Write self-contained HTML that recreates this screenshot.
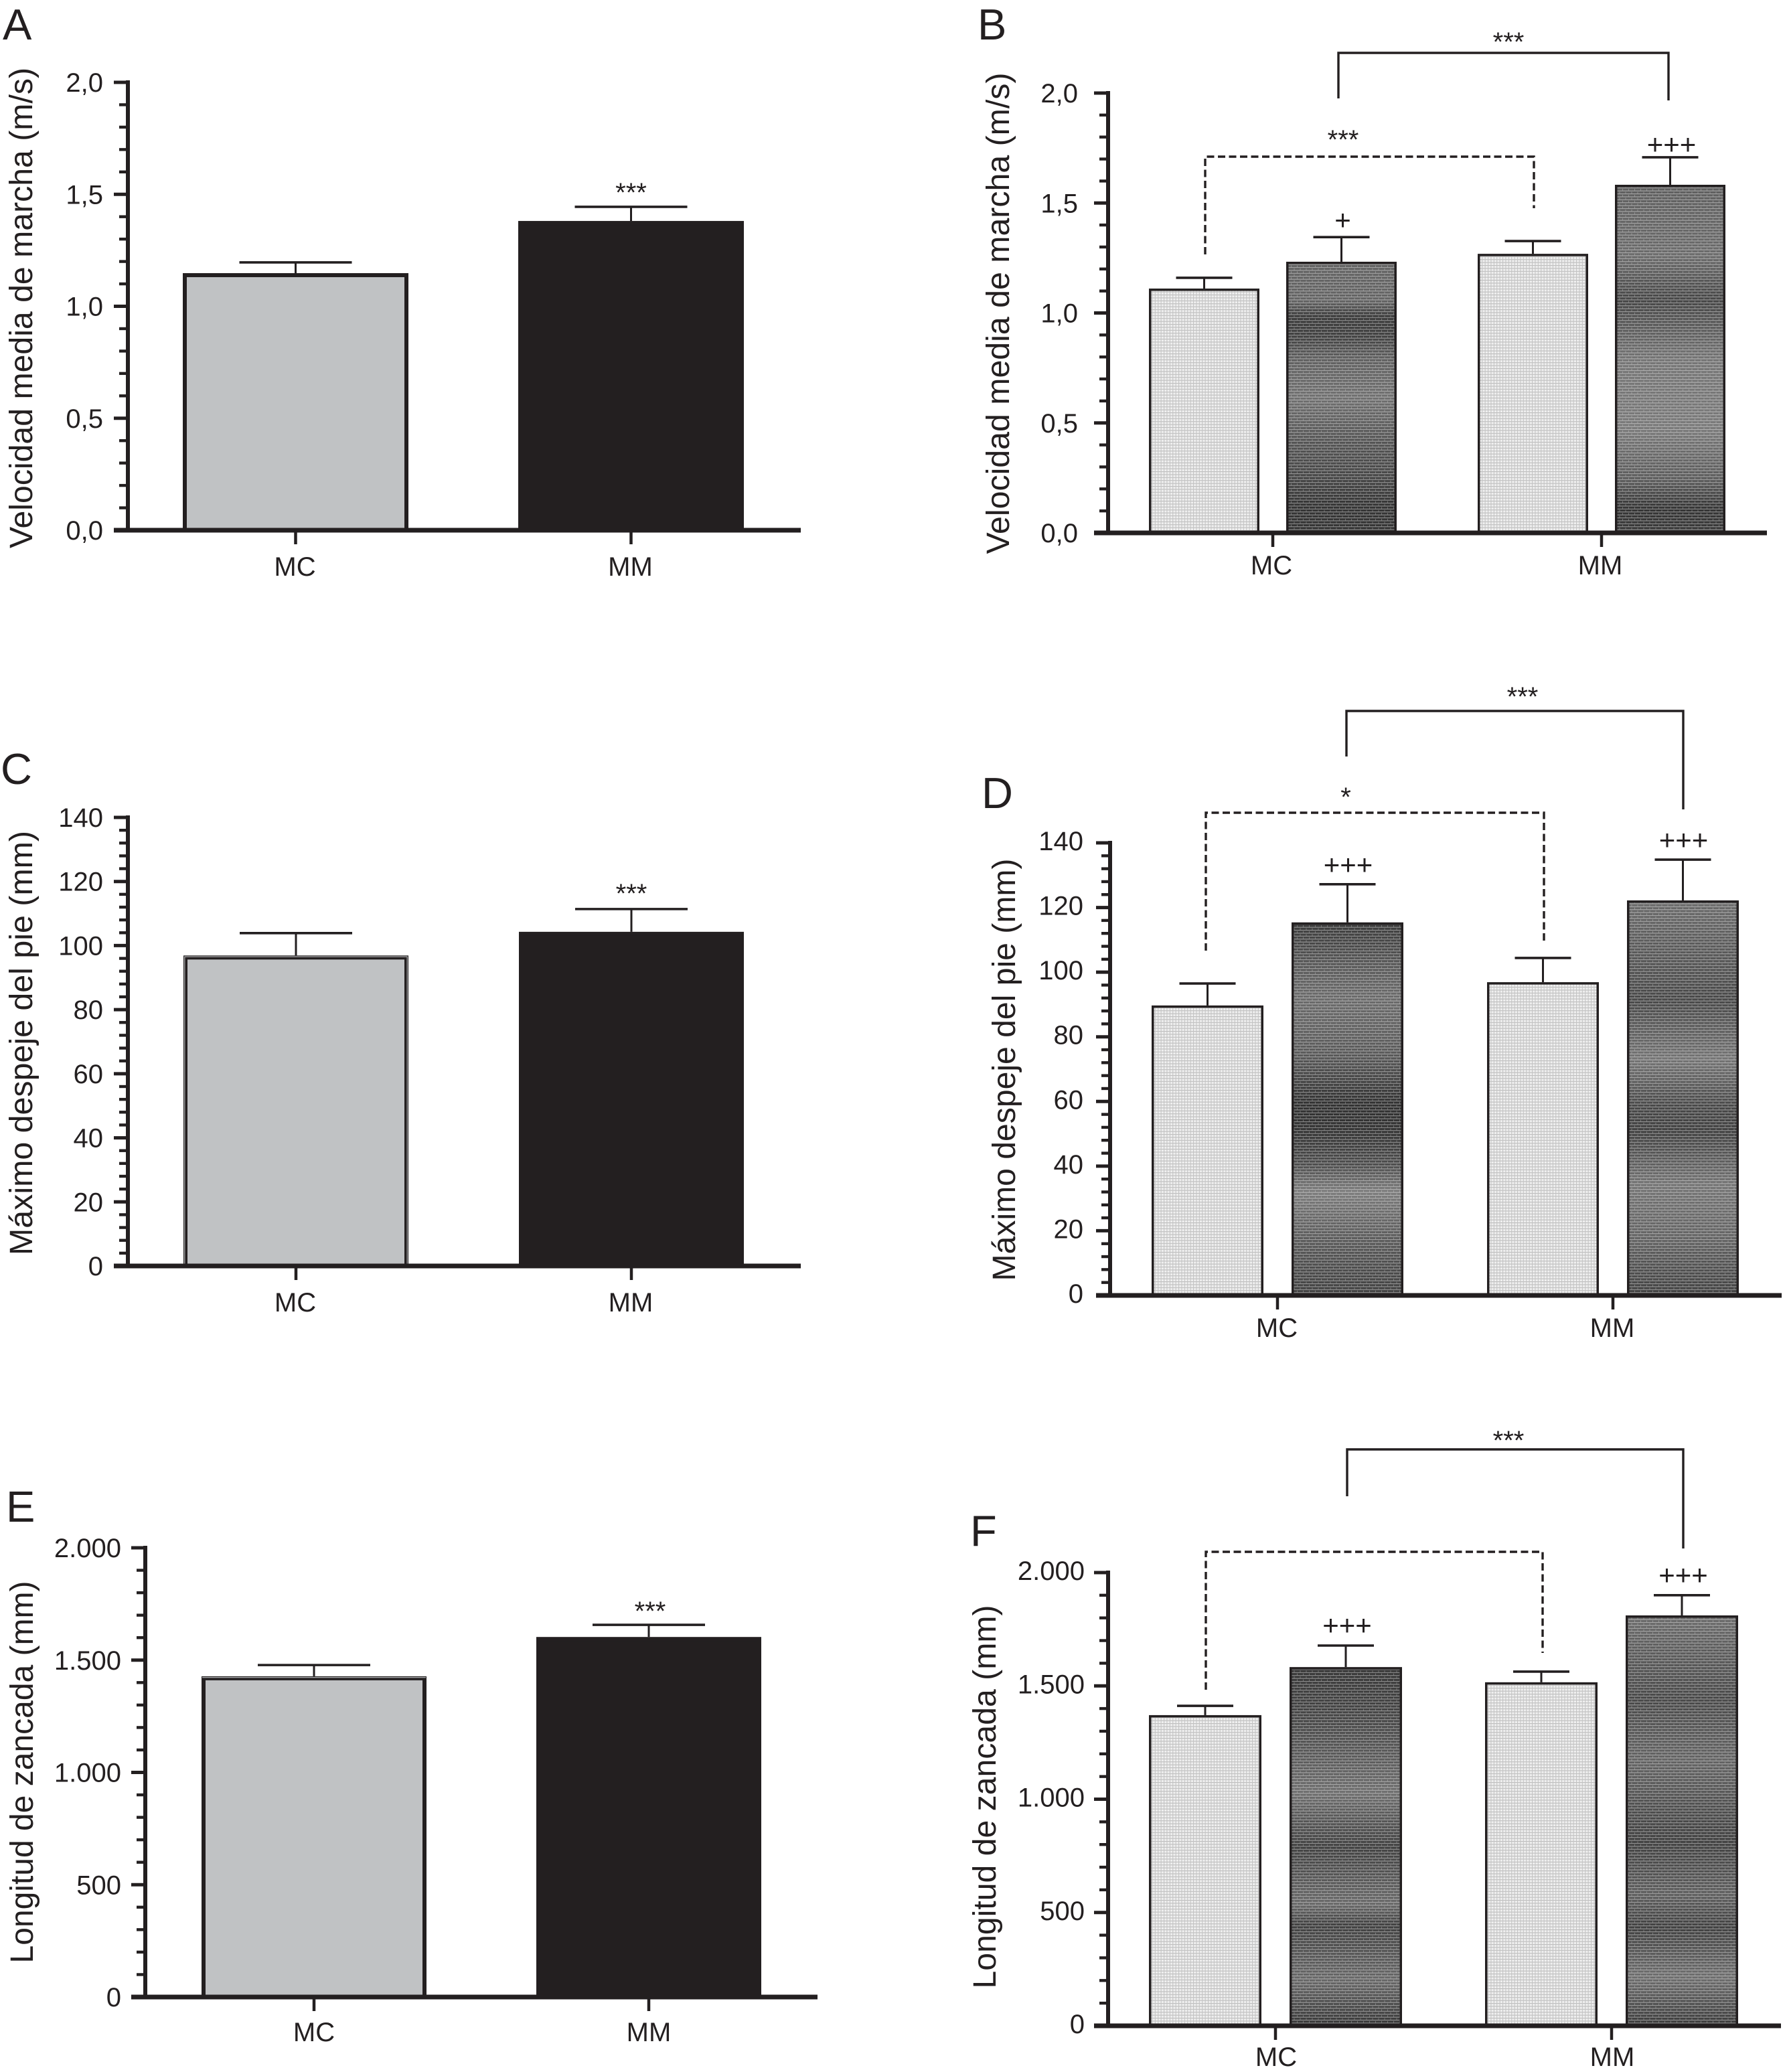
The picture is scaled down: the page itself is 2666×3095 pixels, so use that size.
<!DOCTYPE html>
<html lang="es">
<head>
<meta charset="utf-8">
<title>Velocidad, despeje y longitud de zancada</title>
<style>
html,body{margin:0;padding:0;background:#fff}
svg{display:block}
text{font-family:"Liberation Sans",Arial,sans-serif;fill:#231f20}
</style>
</head>
<body>
<svg id="figure" xmlns="http://www.w3.org/2000/svg" width="2666" height="3095" viewBox="0 0 2666 3095">
  <defs>
    <pattern id="lightTexture" patternUnits="userSpaceOnUse" width="4.4" height="4.4">
      <rect width="4.4" height="4.4" fill="#efefef"/>
      <rect width="4.4" height="1.1" fill="#bcbcbc"/>
      <rect width="1.1" height="4.4" fill="#c4c4c4"/>
    </pattern>
    <pattern id="brickTexture" patternUnits="userSpaceOnUse" width="9" height="8.8">
      <rect x="0" y="3" width="9" height="1.1" fill="#ffffff" fill-opacity="0.45"/>
      <rect x="0" y="7.4" width="9" height="1.1" fill="#ffffff" fill-opacity="0.45"/>
      <rect x="2" y="0.5" width="1" height="2.5" fill="#ffffff" fill-opacity="0.3"/>
      <rect x="6.5" y="4.9" width="1" height="2.5" fill="#ffffff" fill-opacity="0.3"/>
    </pattern>
  </defs>
  <rect width="2666" height="3095" fill="#ffffff"/>
  <g id="panel-a"></g>
  <g id="panel-b"></g>
  <g id="panel-c"></g>
  <g id="panel-d"></g>
  <g id="panel-e"></g>
  <g id="panel-f"></g>
</svg>
<script>
const categories = ['MC', 'MM'];

const speedTicks = [0, 0.5, 1, 1.5, 2];
const speedTickLabels = ['0,0', '0,5', '1,0', '1,5', '2,0'];
const clearanceTicks = [0, 20, 40, 60, 80, 100, 120, 140];
const clearanceTickLabels = ['0', '20', '40', '60', '80', '100', '120', '140'];
const strideTicks = [0, 500, 1000, 1500, 2000];
const strideTickLabels = ['0', '500', '1.000', '1.500', '2.000'];

const panelAValues = [1.148, 1.381];
const panelAErrors = [1.196, 1.444];
const panelAMarks = ['', '***'];

const panelBValues = [1.111, 1.233, 1.269, 1.583];
const panelBErrors = [1.160, 1.345, 1.327, 1.708];
const panelBMarks = ['', '+', '', '+++'];

const panelCValues = [96.9, 104.3];
const panelCErrors = [103.9, 111.4];
const panelCMarks = ['', '***'];

const panelDValues = [89.7, 115.4, 96.9, 122.2];
const panelDErrors = [96.5, 127.2, 104.4, 134.8];
const panelDMarks = ['', '+++', '', '+++'];

const panelEValues = [1428, 1603];
const panelEErrors = [1478, 1657];
const panelEMarks = ['', '***'];

const panelFValues = [1371, 1583, 1516, 1811];
const panelFErrors = [1412, 1678, 1563, 1900];
const panelFMarks = ['', '+++', '', '+++'];

const INK = '#231f20';
const NS = 'http://www.w3.org/2000/svg';
const defs = document.querySelector('#figure defs');

function svgEl(parent, tag, attrs, text) {
  const node = document.createElementNS(NS, tag);
  for (const key in attrs) node.setAttribute(key, attrs[key]);
  if (text !== undefined) node.textContent = text;
  parent.appendChild(node);
  return node;
}

function inert(node) {
  
  return node;
}

let gradientCount = 0;
function bandGradient(stops) {
  const id = 'band' + (gradientCount++);
  const g = svgEl(defs, 'linearGradient', {id: id, x1: 0, y1: 0, x2: 0, y2: 1});
  stops.forEach(function (s) {
    svgEl(g, 'stop', {offset: s[0], 'stop-color': s[1]});
  });
  return 'url(#' + id + ')';
}

function drawPanel(cfg) {
  const root = document.getElementById(cfg.id);
  const yScale = function (v) { return cfg.y0 - (v / cfg.max) * (cfg.y0 - cfg.yTop); };

  /* panel letter */
  const letter = svgEl(root, 'text', {x: cfg.letter[1], y: cfg.letter[2], 'font-size': 65}, cfg.letter[0]);
  
  inert(letter);

  /* y axis title */
  const title = svgEl(root, 'text', {
    x: cfg.title.x, y: cfg.title.y, 'font-size': 48, 'text-anchor': 'middle',
    textLength: cfg.title.len, lengthAdjust: 'spacingAndGlyphs',
    transform: 'rotate(-90 ' + cfg.title.x + ' ' + cfg.title.y + ')'
  }, cfg.title.text);
  
  inert(title);

  /* bars */
  const count = cfg.values.length;
  const centers = [];
  for (let i = 0; i < count; i++) {
    const left = count === 2
      ? cfg.barX + i * cfg.barStep
      : cfg.barX + Math.floor(i / 2) * cfg.groupStep + (i % 2) * cfg.barStep;
    const cx = left + cfg.barW / 2;
    centers.push(cx);
    const top = yScale(cfg.values[i]);
    const sw = cfg.barStroke;
    const rectAttrs = {x: left + sw / 2, y: top + sw / 2, width: cfg.barW - sw, height: Math.max(0, cfg.y0 - top - sw / 2)};

    if (cfg.solid) {
      const bar = svgEl(root, 'rect', Object.assign({}, rectAttrs, {fill: i === 0 ? '#c0c2c4' : INK, stroke: INK, 'stroke-width': sw}));
      
      inert(bar);
      if (cfg.doubleOutline === 'all' && i === 0) {
        const inner = svgEl(root, 'rect', {x: left + 1.8, y: top + 1.8, width: cfg.barW - 3.6, height: Math.max(0, cfg.y0 - top - 1.8), fill: 'none', stroke: '#c0c2c4', 'stroke-width': 1.1});
        
        inert(inner);
      }
      if (cfg.doubleOutline === 'top' && i === 0) {
        const innerTop = svgEl(root, 'line', {x1: left + 1, x2: left + cfg.barW - 1, y1: top + 1.8, y2: top + 1.8, stroke: '#c0c2c4', 'stroke-width': 1.1});
        
        inert(innerTop);
      }
    } else if (i % 2 === 0) {
      const bar = svgEl(root, 'rect', Object.assign({}, rectAttrs, {fill: 'url(#lightTexture)', stroke: INK, 'stroke-width': sw}));
      
      inert(bar);
    } else {
      const bands = i === 1 ? cfg.bandsA : cfg.bandsB;
      const bar = svgEl(root, 'rect', Object.assign({}, rectAttrs, {fill: bandGradient(bands)}));
      
      inert(bar);
      const tex = svgEl(root, 'rect', Object.assign({}, rectAttrs, {fill: 'url(#brickTexture)', stroke: INK, 'stroke-width': sw}));
      
      inert(tex);
    }

    /* error bar */
    const errY = yScale(cfg.errors[i]);
    const stem = svgEl(root, 'line', {x1: cx, x2: cx, y1: top, y2: errY, stroke: INK, 'stroke-width': 3});
    
    inert(stem);
    const cap = svgEl(root, 'line', {x1: cx - cfg.capW / 2, x2: cx + cfg.capW / 2, y1: errY, y2: errY, stroke: INK, 'stroke-width': 3.6});
    
    inert(cap);

    /* significance mark above error bar */
    const mark = cfg.marks[i];
    if (mark) {
      const markText = svgEl(root, 'text', {
        x: cx + (cfg.markDx || 0), y: errY - cfg.markGap[i], 'font-size': mark.charAt(0) === '+' ? 42 : 40, 'text-anchor': 'middle'
      }, mark);
      
      inert(markText);
    }
  }

  /* y axis + ticks */
  const yAxis = svgEl(root, 'line', {x1: cfg.axisX, x2: cfg.axisX, y1: cfg.yTop - 3, y2: cfg.y0, stroke: INK, 'stroke-width': 6});
  
  inert(yAxis);
  const minorTotal = Math.round(cfg.max / cfg.minorStep);
  for (let m = 0; m <= minorTotal; m++) {
    const v = m * cfg.minorStep;
    const isMajor = cfg.ticks.some(function (t) { return Math.abs(t - v) < 1e-6; });
    if (isMajor) continue;
    const minor = svgEl(root, 'line', {x1: cfg.axisX - 13, x2: cfg.axisX, y1: yScale(v), y2: yScale(v), stroke: INK, 'stroke-width': 4.4});
    
    inert(minor);
  }
  cfg.ticks.forEach(function (t, k) {
    const major = svgEl(root, 'line', {x1: cfg.axisX - 21, x2: cfg.axisX, y1: yScale(t), y2: yScale(t), stroke: INK, 'stroke-width': 5});
    
    inert(major);
    const label = svgEl(root, 'text', {x: cfg.labelX, y: yScale(t) + cfg.labelDy, 'font-size': 40, 'text-anchor': 'end'}, cfg.tickLabels[k]);
    
    inert(label);
  });

  /* x axis + categories */
  const xAxis = svgEl(root, 'line', {x1: cfg.axisX - 21, x2: cfg.axisRight, y1: cfg.y0, y2: cfg.y0, stroke: INK, 'stroke-width': 7});
  
  inert(xAxis);
  categories.forEach(function (name, k) {
    const tx = count === 2 ? centers[k] : (centers[k * 2] + centers[k * 2 + 1]) / 2;
    const tick = svgEl(root, 'line', {x1: tx, x2: tx, y1: cfg.y0, y2: cfg.y0 + 21, stroke: INK, 'stroke-width': 4.5});
    
    inert(tick);
    const catLabel = svgEl(root, 'text', {x: tx + cfg.catDx, y: cfg.y0 + cfg.catGap, 'font-size': 40, 'text-anchor': 'middle'}, name);
    
    inert(catLabel);
  });

  /* comparison brackets */
  (cfg.brackets || []).forEach(function (b) {
    const path = svgEl(root, 'path', {
      d: 'M' + b.x1 + ' ' + b.bottom1 + 'V' + b.top + 'H' + b.x2 + 'V' + b.bottom2,
      fill: 'none', stroke: INK, 'stroke-width': 3.4, 'stroke-dasharray': b.dashed ? '11 5.5' : 'none'
    });
    
    inert(path);
    if (b.label) {
      const lab = svgEl(root, 'text', {x: b.labelX, y: b.labelY, 'font-size': 40, 'text-anchor': 'middle'}, b.label);
      
      inert(lab);
    }
  });
}

drawPanel({
  id: 'panel-a', solid: true, values: panelAValues, errors: panelAErrors, marks: panelAMarks,
  ticks: speedTicks, tickLabels: speedTickLabels, max: 2, minorStep: 0.1,
  y0: 792, yTop: 123, axisX: 191, axisRight: 1196, labelX: 154, labelDy: 14, catGap: 68, catDx: -1,
  barX: 273, barStep: 501, barW: 337, barStroke: 6, capW: 168, markGap: [8, 8], markDx: 0,
  letter: ['A', 4, 59], title: {x: 48, y: 460, len: 718, text: 'Velocidad media de marcha (m/s)'}
});

drawPanel({
  id: 'panel-b', values: panelBValues, errors: panelBErrors, marks: panelBMarks,
  ticks: speedTicks, tickLabels: speedTickLabels, max: 2, minorStep: 0.1,
  y0: 796, yTop: 139, axisX: 1655, axisRight: 2639, labelX: 1610, labelDy: 14, catGap: 62, catDx: -2,
  barX: 1716, barStep: 205, groupStep: 491, barW: 165, barStroke: 3.5, capW: 84, markGap: [0, 11, 0, 5], markDx: 2,
  bandsA: [[0, '#626262'], [0.14, '#646464'], [0.2, '#3a3a3a'], [0.27, '#404040'], [0.35, '#5e5e5e'], [0.5, '#707070'], [0.66, '#545454'], [0.78, '#484848'], [0.9, '#343434'], [1, '#343434']],
  bandsB: [[0, '#5e5e5e'], [0.2, '#6b6b6b'], [0.33, '#464646'], [0.5, '#747474'], [0.7, '#797979'], [0.85, '#5a5a5a'], [0.93, '#343434'], [1, '#3a3a3a']],
  letter: ['B', 1460, 59], title: {x: 1507, y: 468, len: 719, text: 'Velocidad media de marcha (m/s)'},
  brackets: [
    {x1: 1999, x2: 2492, top: 79, bottom1: 147, bottom2: 150, dashed: false, label: '***', labelX: 2253, labelY: 76},
    {x1: 1800, x2: 2291, top: 234, bottom1: 380, bottom2: 311, dashed: true, label: '***', labelX: 2006, labelY: 222}
  ]
});

drawPanel({
  id: 'panel-c', solid: true, doubleOutline: 'all', values: panelCValues, errors: panelCErrors, marks: panelCMarks,
  ticks: clearanceTicks, tickLabels: clearanceTickLabels, max: 140, minorStep: 4,
  y0: 1891, yTop: 1221, axisX: 191, axisRight: 1196, labelX: 154, labelDy: 14, catGap: 68, catDx: -1,
  barX: 274, barStep: 501, barW: 336, barStroke: 6, capW: 168, markGap: [10, 10], markDx: 0,
  letter: ['C', 1, 1171], title: {x: 48, y: 1558, len: 634, text: 'Máximo despeje del pie (mm)'}
});

drawPanel({
  id: 'panel-d', values: panelDValues, errors: panelDErrors, marks: panelDMarks,
  ticks: clearanceTicks, tickLabels: clearanceTickLabels, max: 140, minorStep: 4,
  y0: 1935, yTop: 1259, axisX: 1658, axisRight: 2661, labelX: 1618, labelDy: 11, catGap: 62, catDx: -1,
  barX: 1720, barStep: 209, groupStep: 501, barW: 167, barStroke: 3.5, capW: 84, markGap: [0, 15, 0, 15], markDx: 1,
  bandsA: [[0, '#3a3a3a'], [0.12, '#5a5a5a'], [0.2, '#6b6b6b'], [0.35, '#5a5a5a'], [0.48, '#323232'], [0.55, '#323232'], [0.65, '#4e4e4e'], [0.72, '#7c7c7c'], [0.85, '#5a5a5a'], [1, '#404040']],
  bandsB: [[0, '#6b6b6b'], [0.25, '#484848'], [0.4, '#747474'], [0.52, '#484848'], [0.58, '#404040'], [0.72, '#747474'], [0.85, '#646464'], [1, '#404040']],
  letter: ['D', 1466, 1207], title: {x: 1516, y: 1598, len: 631, text: 'Máximo despeje del pie (mm)'},
  brackets: [
    {x1: 2011, x2: 2514, top: 1062, bottom1: 1130, bottom2: 1209, dashed: false, label: '***', labelX: 2274, labelY: 1054},
    {x1: 1801, x2: 2306, top: 1214, bottom1: 1420, bottom2: 1405, dashed: true, label: '*', labelX: 2010, labelY: 1204}
  ]
});

drawPanel({
  id: 'panel-e', solid: true, doubleOutline: 'top', values: panelEValues, errors: panelEErrors, marks: panelEMarks,
  ticks: strideTicks, tickLabels: strideTickLabels, max: 2000, minorStep: 100,
  y0: 2983, yTop: 2312, axisX: 217, axisRight: 1221, labelX: 181, labelDy: 14, catGap: 66, catDx: 0,
  barX: 301, barStep: 500, barW: 336, barStroke: 6, capW: 168, markGap: [7, 7], markDx: 2,
  letter: ['E', 9, 2273], title: {x: 49, y: 2647, len: 571, text: 'Longitud de zancada (mm)'}
});

drawPanel({
  id: 'panel-f', values: panelFValues, errors: panelFErrors, marks: panelFMarks,
  ticks: strideTicks, tickLabels: strideTickLabels, max: 2000, minorStep: 100,
  y0: 3026, yTop: 2349, axisX: 1655, axisRight: 2660, labelX: 1620, labelDy: 11, catGap: 60, catDx: 1,
  barX: 1716, barStep: 210, groupStep: 502, barW: 168, barStroke: 3.5, capW: 84, markGap: [0, 16, 0, 16], markDx: 2,
  bandsA: [[0, '#363636'], [0.15, '#484848'], [0.35, '#6e6e6e'], [0.5, '#404040'], [0.6, '#5a5a5a'], [0.66, '#686868'], [0.72, '#404040'], [0.87, '#686868'], [1, '#363636']],
  bandsB: [[0, '#6b6b6b'], [0.2, '#484848'], [0.35, '#646464'], [0.55, '#404040'], [0.68, '#5e5e5e'], [0.76, '#404040'], [0.88, '#6e6e6e'], [1, '#3a3a3a']],
  letter: ['F', 1449, 2309], title: {x: 1487, y: 2684, len: 573, text: 'Longitud de zancada (mm)'},
  brackets: [
    {x1: 2012, x2: 2514, top: 2165, bottom1: 2235, bottom2: 2313, dashed: false, label: '***', labelX: 2253, labelY: 2165},
    {x1: 1801, x2: 2304, top: 2318, bottom1: 2524, bottom2: 2469, dashed: true}
  ]
});
</script>
</body>
</html>
